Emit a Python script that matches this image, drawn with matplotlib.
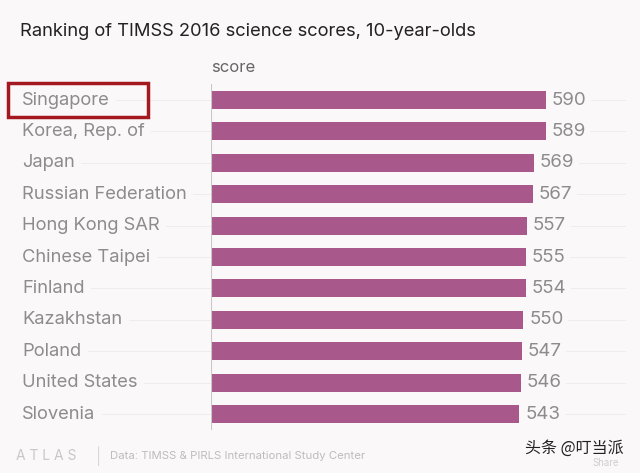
import matplotlib
matplotlib.use("Agg")
import matplotlib.pyplot as plt
from matplotlib.transforms import blended_transform_factory
from matplotlib.patches import Rectangle

countries = ["Singapore", "Korea, Rep. of", "Japan", "Russian Federation", "Hong Kong SAR",
             "Chinese Taipei", "Finland", "Kazakhstan", "Poland", "United States", "Slovenia"]
scores = [590, 589, 569, 567, 557, 555, 554, 550, 547, 546, 543]

BG = "#fbf8fa"
BAR = "#a8588a"
GRAY = "#8c8c8c"

plt.rcParams['font.family'] = ['Inter', 'Noto Sans CJK SC', 'DejaVu Sans']

fig = plt.figure(figsize=(6.4, 4.73), dpi=100, facecolor=BG)
W, H = 640, 473
ax_left, ax_right = 211, 625
row_top, row_bot = 100, 414
n = len(countries)
sp = (row_bot - row_top) / (n - 1)
top = row_top - sp / 2
bot = row_bot + sp / 2
ax = fig.add_axes([ax_left / W, 1 - bot / H, (ax_right - ax_left) / W, (bot - top) / H])
ax.set_facecolor(BG)
ax.set_xlim(0, (ax_right - ax_left) / 0.568)
ax.set_ylim(n - 0.5, -0.5)
for s in ax.spines.values():
    s.set_visible(False)
ax.set_xticks([])
ax.set_yticks([])

ys = list(range(n))
tr = blended_transform_factory(fig.transFigure, ax.transData)
for y in ys:
    ax.plot([20 / W, 625 / W], [y, y], transform=tr, color="#f0ecee", lw=0.7, zorder=0, clip_on=False)

ax.barh(ys, scores, height=0.57, color=BAR, zorder=2)
ax.axvline(0, color="#c8c8c8", lw=0.8, zorder=3)

for y, c, v in zip(ys, countries, scores):
    ax.text(22 / W, y, c, transform=tr, ha="left", va="center", fontsize=13.2, color=GRAY,
            bbox=dict(boxstyle="square,pad=0.35", fc=BG, ec="none"), zorder=4)
    ax.text(v + 10, y, str(v), ha="left", va="center", fontsize=13.5, color=GRAY,
            bbox=dict(boxstyle="square,pad=0.25", fc=BG, ec="none"), zorder=4)

fig.text(20 / W, 1 - 32 / H, "Ranking of TIMSS 2016 science scores, 10-year-olds",
         ha="left", va="center", fontsize=13.2, color="#222222")
fig.text(211 / W, 1 - 68 / H, "score", ha="left", va="center", fontsize=12, color="#666666")

fig.patches.append(Rectangle((8 / W, 1 - 117 / H), 140 / W, 34 / H, transform=fig.transFigure,
                             fill=False, ec="#a3191f", lw=2.5, zorder=10))

fig.text(16 / W, 1 - 456 / H, "A T L A S", ha="left", va="center", fontsize=10, color="#c8c8c8")
fig.text(96 / W, 1 - 456 / H, "|", ha="left", va="center", fontsize=11, color="#d8d8d8")
fig.text(110 / W, 1 - 456 / H, "Data: TIMSS & PIRLS International Study Center", ha="left",
         va="center", fontsize=8.2, color="#bdbdbd")
fig.text(525 / W, 1 - 448 / H, "头条 @叮当派", ha="left", va="center", fontsize=11.5,
         color="#222222", family=['Noto Sans CJK SC', 'DejaVu Sans'])
fig.text(606 / W, 1 - 463 / H, "Share", ha="center", va="center", fontsize=7, color="#cfcfcf")

fig.savefig("out.png", dpi=100, facecolor=BG)
